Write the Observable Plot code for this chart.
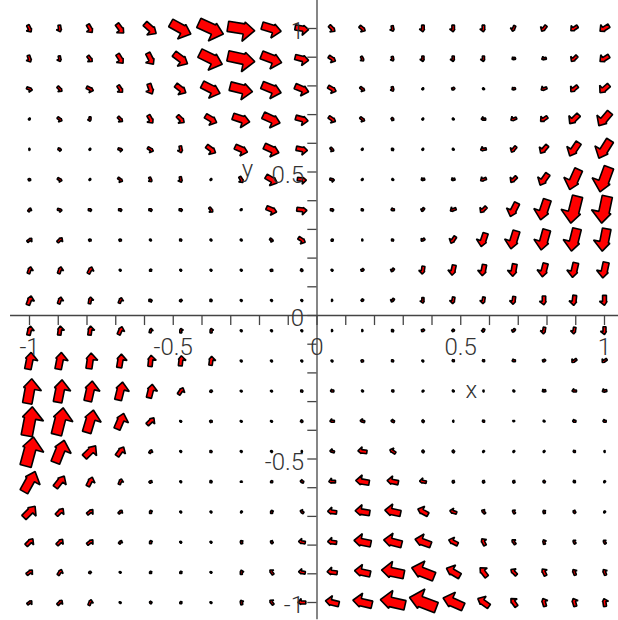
<!DOCTYPE html>
<html><head><meta charset="utf-8">
<script src="https://cdn.jsdelivr.net/npm/d3@7"></script>
<script src="https://cdn.jsdelivr.net/npm/@observablehq/plot@0.6"></script>
<style>html,body{margin:0;padding:0;background:#fff;}svg{display:block}</style>
</head><body><div id="chart"></div>
<script>
// grid of the field plot (20 x 20 points)
const gridX = [-1,-0.8947,-0.7895,-0.6842,-0.5789,-0.4737,-0.3684,-0.2632,-0.1579,-0.0526,0.0526,0.1579,0.2632,0.3684,0.4737,0.5789,0.6842,0.7895,0.8947,1];
const gridY = [1,0.8947,0.7895,0.6842,0.5789,0.4737,0.3684,0.2632,0.1579,0.0526,-0.0526,-0.1579,-0.2632,-0.3684,-0.4737,-0.5789,-0.6842,-0.7895,-0.8947,-1];

// vector components (rows top->bottom, columns left->right)
const U = [
 [3,1,4,6,10,18,22,24,17,12,5,5,1,0,0,0,-2,-4,-6,-8],
 [2,1,4,5,5,12,20,24,18,12,6,2,1,0,0,0,-3,-4,-5,-8],
 [5,4,6,4,3,9,16,20,17,12,7,4,1,1,-2,-1,-3,-5,-6,-8],
 [1,4,0,4,4,6,10,15,15,11,6,4,2,1,-1,-4,-5,-6,-8,-10],
 [1,3,1,4,5,1,8,11,13,10,3,1,2,1,-1,-5,-4,-6,-8,-10],
 [2,4,1,4,2,1,1,3,10,8,4,1,-1,-3,-3,-5,-5,-7,-8,-8],
 [2,4,3,3,3,3,3,1,9,9,3,2,-3,-2,-5,-5,-6,-6,-6,-5],
 [4,4,2,2,1,2,1,1,3,6,0,1,2,-3,-4,-4,-5,-5,-5,-4],
 [2,2,3,1,0,1,1,1,2,2,1,-2,-2,-1,-2,-2,-2,-3,-3,-3],
 [3,2,1,2,3,1,2,1,1,1,1,-1,-2,0,-1,-1,-1,0,-1,0],
 [2,1,1,3,1,0,0,1,1,1,1,1,2,-2,-1,-1,-2,-1,-1,0],
 [3,3,2,2,1,1,1,1,1,1,1,2,2,1,-2,-2,-3,-2,-4,-4],
 [4,4,4,4,3,4,1,1,1,2,-3,-1,-2,-1,-1,-1,-1,-3,-4,-4],
 [5,6,6,6,6,1,2,1,1,2,-4,-4,-3,-2,-1,-2,0,-1,-3,-3],
 [7,8,10,6,2,1,2,1,1,1,-4,-8,-5,-2,-2,-1,-1,-1,-2,-1],
 [10,8,4,2,2,1,2,0,0,-3,-6,-12,-10,-6,-1,-1,-1,-2,-2,-1],
 [10,6,5,3,0,1,1,-1,0,-3,-8,-13,-14,-9,-6,-3,-2,-1,-2,-1],
 [6,5,5,2,0,1,1,-1,-2,-6,-8,-15,-16,-14,-8,-3,-3,-1,-2,-2],
 [5,3,1,1,0,0,1,0,-3,-6,-9,-14,-20,-20,-12,-6,-5,-3,-2,-2],
 [4,4,2,1,-2,0,1,-1,-3,-7,-12,-17,-22,-24,-18,-10,-5,-2,-2,-1]
];
const V = [
 [-6,-6,-7,-8,-9,-10,-10,-4,-5,-2,-5,-4,-5,-6,-6,-6,-5,-5,-4,-5],
 [-6,-5,-5,-8,-10,-9,-10,-5,-7,-3,-4,-4,-4,-5,-5,-5,-1,-1,-5,-5],
 [-2,-4,-3,-6,-9,-7,-8,-5,-7,-5,-4,-3,-4,-1,-2,-1,-1,-2,-5,-7],
 [-1,-3,-4,-4,-7,-6,-6,-5,-7,-3,-4,-3,-2,-1,-1,0,-2,-4,-8,-12],
 [0,-1,-1,-1,-3,-6,-6,-5,-6,-2,-3,-1,0,-1,-1,-1,-5,-7,-12,-16],
 [1,-2,-1,-3,-4,-5,-1,-5,-6,-1,-1,-1,-1,-1,-1,-2,-5,-10,-18,-22],
 [3,-1,0,0,0,0,-4,-1,-4,-1,0,0,0,-3,-2,-5,-12,-18,-24,-24],
 [3,4,1,1,1,0,1,1,-2,-4,2,0,0,-2,-6,-12,-16,-18,-20,-20],
 [6,6,6,1,2,1,1,1,1,-1,1,-2,-3,-7,-9,-10,-11,-12,-13,-14],
 [8,6,6,5,0,2,0,1,1,1,0,-2,-3,-5,-6,-6,-7,-8,-9,-9],
 [8,8,8,7,4,4,4,1,1,1,0,0,0,-2,-2,-3,-3,-6,-6,-7],
 [15,15,14,12,10,9,8,1,1,1,1,1,0,1,0,0,0,-2,-3,-3],
 [22,20,18,16,12,6,2,1,1,0,0,-1,0,1,-1,0,-1,-1,0,-1],
 [26,24,20,14,6,1,1,1,1,-1,0,1,1,1,0,0,-1,-1,0,0],
 [26,20,10,8,3,1,0,1,1,0,1,1,3,1,1,1,1,1,0,0],
 [18,10,8,5,2,1,0,1,2,1,0,2,2,1,2,2,2,1,0,1],
 [10,6,4,3,3,1,1,1,3,2,1,2,3,5,2,3,3,3,2,1],
 [6,5,4,3,3,1,1,3,2,1,1,3,4,5,4,6,4,4,3,3],
 [4,5,2,1,2,2,1,4,4,1,1,3,4,8,7,8,5,6,5,5],
 [3,4,5,1,1,2,1,4,4,0,3,4,5,9,8,7,7,7,7,7]
];

const minorTicks = [-1,-0.9,-0.8,-0.7,-0.6,-0.5,-0.4,-0.3,-0.2,-0.1,0,0.1,0.2,0.3,0.4,0.5,0.6,0.7,0.8,0.9,1];
const xTickVals = [-1,-0.5,0,0.5,1];
const xTickText = ["-1","-0.5","0","0.5","1"];
const yTickVals = [1,0.5,0,-0.5,-1];
const yTickText = ["1","0.5","0","-0.5","-1"];
const axisNames = [{t:"x", x:0.537, y:-0.262}, {t:"y", x:-0.242, y:0.509}];

// build thick (Maple-style) arrow polygons from the vectors
const k = 1.12/287.5; // field units -> data units
const polys = [];
let id = 0;
gridY.forEach((gy, j) => {
  gridX.forEach((gx, i) => {
    const u = U[j][i], v = V[j][i];
    const L = Math.hypot(u, v);
    if (L === 0) return;
    const dx = u / L, dy = v / L;
    const nx = dy, ny = -dx; // right-hand side
    const h = L / 2, s0 = h - 0.4 * L;
    const w = Math.max(0.19 * L, 0.9);
    const W1 = 0.44 * L + 0.6, W2 = 0.26 * L;
    const local = [[-h,-w],[s0,-w],[s0,-Math.max(W2, w)],[h,0],[s0,W1],[s0,w],[-h,w]];
    for (const [s, p] of local) {
      polys.push({id, x: gx + (s*dx + p*nx)*k, y: gy + (s*dy + p*ny)*k});
    }
    id++;
  });
});

const font = {fontFamily: "Roboto, 'Liberation Sans', sans-serif", fontWeight: 300, fontSize: 24, fill: "#333"};

const chart = Plot.plot({
  width: 618, height: 620, margin: 0,
  x: {domain: [-1.10087, 1.0487], axis: null},
  y: {domain: [-1.06272, 1.09756], axis: null},
  style: {background: "#fff"},
  marks: [
    Plot.line(polys, {x: "x", y: "y", z: "id", fill: "#ff0000", stroke: "#000", strokeWidth: 1.6, curve: "linear-closed", strokeLinejoin: "miter"}),
    Plot.ruleY([0], {x1: () => -1.066, x2: () => 1.06, stroke: "#444", strokeWidth: 1.3}),
    Plot.ruleX([0], {y1: () => -1.06, y2: () => 1.1, stroke: "#444", strokeWidth: 1.3}),
    Plot.ruleX(minorTicks, {x: d => d, y1: () => 0, y2: () => -0.035, stroke: "#444", strokeWidth: 1.3}),
    Plot.ruleY(minorTicks, {y: d => d, x1: () => -0.032, x2: () => 0, stroke: "#444", strokeWidth: 1.3}),
    Plot.text(xTickVals, {x: d => d, y: () => 0, text: (d, i) => xTickText[i], textAnchor: "middle", dy: 32, ...font}),
    Plot.text(yTickVals, {x: () => 0, y: d => d, text: (d, i) => yTickText[i], textAnchor: "end", dx: -13, dy: 3, ...font}),
    Plot.text(axisNames, {x: "x", y: "y", text: "t", textAnchor: "middle", ...font})
  ]
});
document.getElementById("chart").appendChild(chart);
</script>
</body></html>
